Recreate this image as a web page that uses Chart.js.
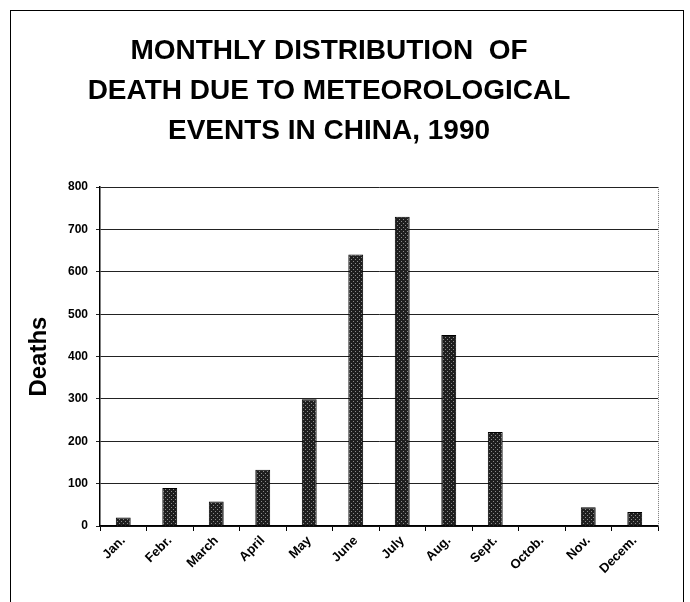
<!DOCTYPE html>
<html>
<head>
<meta charset="utf-8">
<title>Monthly distribution of death due to meteorological events in China, 1990</title>
<script src="https://cdn.jsdelivr.net/npm/chart.js@4.4.0/dist/chart.umd.min.js"></script>
<style>
    html, body { margin: 0; padding: 0; background: #fff; }
    .wrap { position: relative; width: 690px; height: 602px; overflow: hidden; }
    .frame {
        position: absolute; left: 10px; top: 10px; width: 674px; height: 640px;
        border: 1.5px solid #000; border-bottom: none; box-sizing: border-box;
    }
    canvas { position: absolute; left: 0; top: 0; }
</style>
</head>
<body>
<div class="wrap">
    <div class="frame"></div>
    <canvas id="chart" width="690" height="602"></canvas>
</div>
<script>
// Data
const months = ['Jan.', 'Febr.', 'March', 'April', 'May', 'June', 'July', 'Aug.', 'Sept.', 'Octob.', 'Nov.', 'Decem.'];
const deaths = [20, 90, 58, 133, 299, 641, 730, 451, 222, 0, 44, 33];
const yTicks = [0, 100, 200, 300, 400, 500, 600, 700, 800];
const titleLines = ['MONTHLY DISTRIBUTION  OF', 'DEATH DUE TO METEOROLOGICAL', 'EVENTS IN CHINA, 1990'];

const FONT = "'Liberation Sans', Arial, Helvetica, sans-serif";

// Stippled dark fill like the scanned bars
function makeStipple() {
    const c = document.createElement('canvas');
    c.width = 4;
    c.height = 4;
    const g = c.getContext('2d');
    g.fillStyle = '#1e1e1e';
    g.fillRect(0, 0, 4, 4);
    g.fillStyle = '#8a8a8a';
    g.fillRect(1, 1, 1, 1);
    g.fillRect(3, 3, 1, 1);
    return g.createPattern(c, 'repeat');
}

// Dotted right edge of the plot area
const rightEdge = {
    id: 'rightEdge',
    afterDraw(chart) {
        const { ctx, chartArea } = chart;
        ctx.save();
        ctx.strokeStyle = '#777';
        ctx.lineWidth = 1;
        ctx.setLineDash([1, 1]);
        ctx.beginPath();
        ctx.moveTo(chartArea.right + 0.5, chartArea.top);
        ctx.lineTo(chartArea.right + 0.5, chartArea.bottom);
        ctx.stroke();
        ctx.restore();
    }
};

const ctx = document.getElementById('chart').getContext('2d');

new Chart(ctx, {
    type: 'bar',
    data: {
        labels: months,
        datasets: [{
            label: 'Deaths',
            data: deaths,
            backgroundColor: makeStipple(),
            borderColor: '#000',
            borderWidth: 1,
            categoryPercentage: 1,
            barPercentage: 0.32
        }]
    },
    options: {
        responsive: false,
        animation: false,
        layout: {
            padding: { left: 0, right: 32, top: 0, bottom: 0 }
        },
        plugins: {
            legend: { display: false },
            tooltip: { enabled: false },
            title: {
                display: true,
                text: titleLines,
                color: '#000',
                font: { family: FONT, size: 28, weight: 'bold', lineHeight: 1.43 },
                padding: { top: 31, bottom: 36 }
            }
        },
        scales: {
            x: {
                grid: {
                    offset: true,
                    drawOnChartArea: false,
                    drawTicks: true,
                    tickLength: 5,
                    color: '#000'
                },
                border: { color: '#000', width: 1.5 },
                ticks: {
                    color: '#000',
                    autoSkip: false,
                    maxRotation: 45,
                    minRotation: 45,
                    padding: 2,
                    font: { family: FONT, size: 13, weight: 'bold' }
                },
                afterFit(scale) { scale.height = 76; }
            },
            y: {
                min: 0,
                max: 800,
                afterBuildTicks(scale) {
                    scale.ticks = yTicks.map(v => ({ value: v }));
                },
                grid: {
                    color: '#222',
                    lineWidth: 1,
                    drawTicks: true,
                    tickLength: 4
                },
                border: { color: '#000', width: 1.5 },
                ticks: {
                    color: '#000',
                    padding: 8,
                    font: { family: FONT, size: 12, weight: 'bold' }
                },
                title: {
                    display: true,
                    text: 'Deaths',
                    color: '#000',
                    font: { family: FONT, size: 24, weight: 'bold' },
                    padding: { top: 25, bottom: 0 }
                },
                afterFit(scale) { scale.width = 100; }
            }
        }
    },
    plugins: [rightEdge]
});
</script>
</body>
</html>
